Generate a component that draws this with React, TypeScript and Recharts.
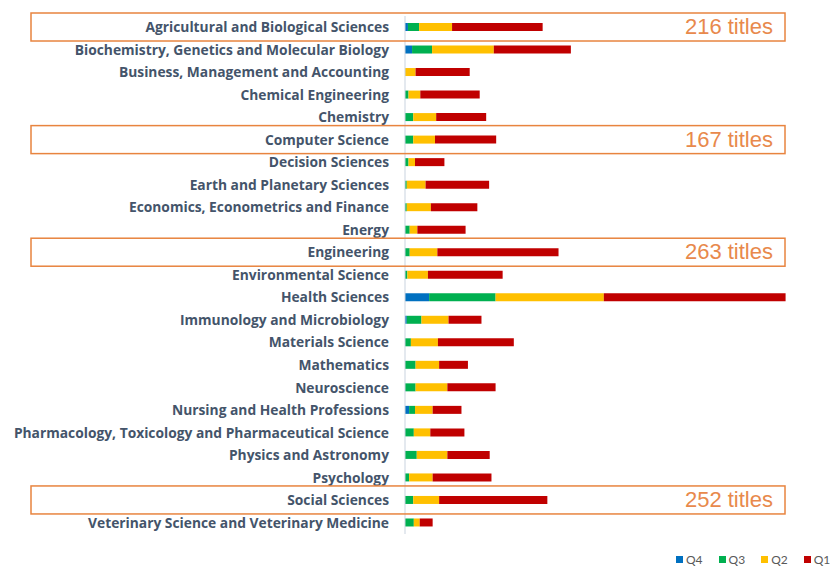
import { Bar, BarChart, LabelList, XAxis, YAxis } from "recharts";

const categories = [
  "Agricultural and Biological Sciences",
  "Biochemistry, Genetics and Molecular Biology",
  "Business, Management and Accounting",
  "Chemical Engineering",
  "Chemistry",
  "Computer Science",
  "Decision Sciences",
  "Earth and Planetary Sciences",
  "Economics, Econometrics and Finance",
  "Energy",
  "Engineering",
  "Environmental Science",
  "Health Sciences",
  "Immunology and Microbiology",
  "Materials Science",
  "Mathematics",
  "Neuroscience",
  "Nursing and Health Professions",
  "Pharmacology, Toxicology and Pharmaceutical Science",
  "Physics and Astronomy",
  "Psychology",
  "Social Sciences",
  "Veterinary Science and Veterinary Medicine",
];

const q4 = [5, 12, 0, 0, 0, 0, 0, 0, 0, 0, 0, 0, 41, 3, 0, 0, 0, 7, 0, 0, 0, 0, 0];
const q3 = [19, 34, 0, 6, 14, 14, 6, 3, 3, 8, 8, 4, 113, 25, 10, 18, 18, 10, 15, 20, 7, 14, 15];
const q2 = [56, 105, 18, 20, 39, 37, 11, 32, 41, 13, 47, 35, 184, 46, 46, 40, 54, 30, 28, 52, 40, 44, 10];
const q1 = [154, 131, 92, 101, 85, 104, 50, 108, 79, 82, 206, 127, 309, 56, 129, 49, 82, 49, 58, 72, 100, 184, 22];

// highlighted subject areas and their title counts
const titles: (number | null)[] = [
  216, null, null, null, null, 167, null, null, null, null, 263, null,
  null, null, null, null, null, null, null, null, null, 252, null,
];

const series = [
  { key: "Q4", color: "#0070C0" },
  { key: "Q3", color: "#00B050" },
  { key: "Q2", color: "#FFC000" },
  { key: "Q1", color: "#C00000" },
];

const data = categories.map((name, i) => ({
  name,
  Q4: q4[i],
  Q3: q3[i],
  Q2: q2[i],
  Q1: q1[i],
  titles: titles[i],
}));

const renderBox = (props: any) => {
  const { y, height, value, index } = props;
  if (value == null) return null;
  const cy = Number(y) + Number(height) / 2;
  return (
    <g key={`box-${index}`}>
      <rect x={31} y={cy - 14} width={754} height={28} fill="none" stroke="#E8843F" strokeWidth={1.5} />
      <text x={773} y={cy + 7} textAnchor="end" fontSize={22} fill="#E8894C" fontFamily="'Liberation Sans', Arial, sans-serif">
        {value} titles
      </text>
    </g>
  );
};

export default function App() {
  return (
    <div style={{ position: "absolute", left: 0, top: 0, width: 840, height: 570, background: "#fff", fontFamily: "Lato, sans-serif" }}>
      <BarChart
        width={840}
        height={570}
        data={data}
        layout="vertical"
        margin={{ top: 16, right: 35, bottom: 36, left: 0 }}
        barSize={8}
      >
        <XAxis type="number" domain={[0, 680]} hide />
        <YAxis
          type="category"
          dataKey="name"
          width={405}
          interval={0}
          tickLine={false}
          tickMargin={10}
          axisLine={{ stroke: "#C9D3DF" }}
          tick={{ fontSize: 13.8, fontWeight: 700, fill: "#44546A", fontFamily: "'Open Sans', sans-serif" }}
        />
        {series.map((s) => (
          <Bar key={s.key} dataKey={s.key} stackId="q" fill={s.color} isAnimationActive={false}>
            {s.key === "Q1" && <LabelList dataKey="titles" content={renderBox} />}
          </Bar>
        ))}
      </BarChart>
      <div style={{ position: "absolute", left: 676, top: 552, display: "flex", fontSize: 12, color: "#595959" }}>
        {series.map((s) => (
          <div key={s.key} style={{ display: "flex", alignItems: "center", marginRight: 16 }}>
            <span style={{ width: 7, height: 7, background: s.color, marginRight: 3, display: "inline-block" }} />
            <span>{s.key}</span>
          </div>
        ))}
      </div>
    </div>
  );
}
